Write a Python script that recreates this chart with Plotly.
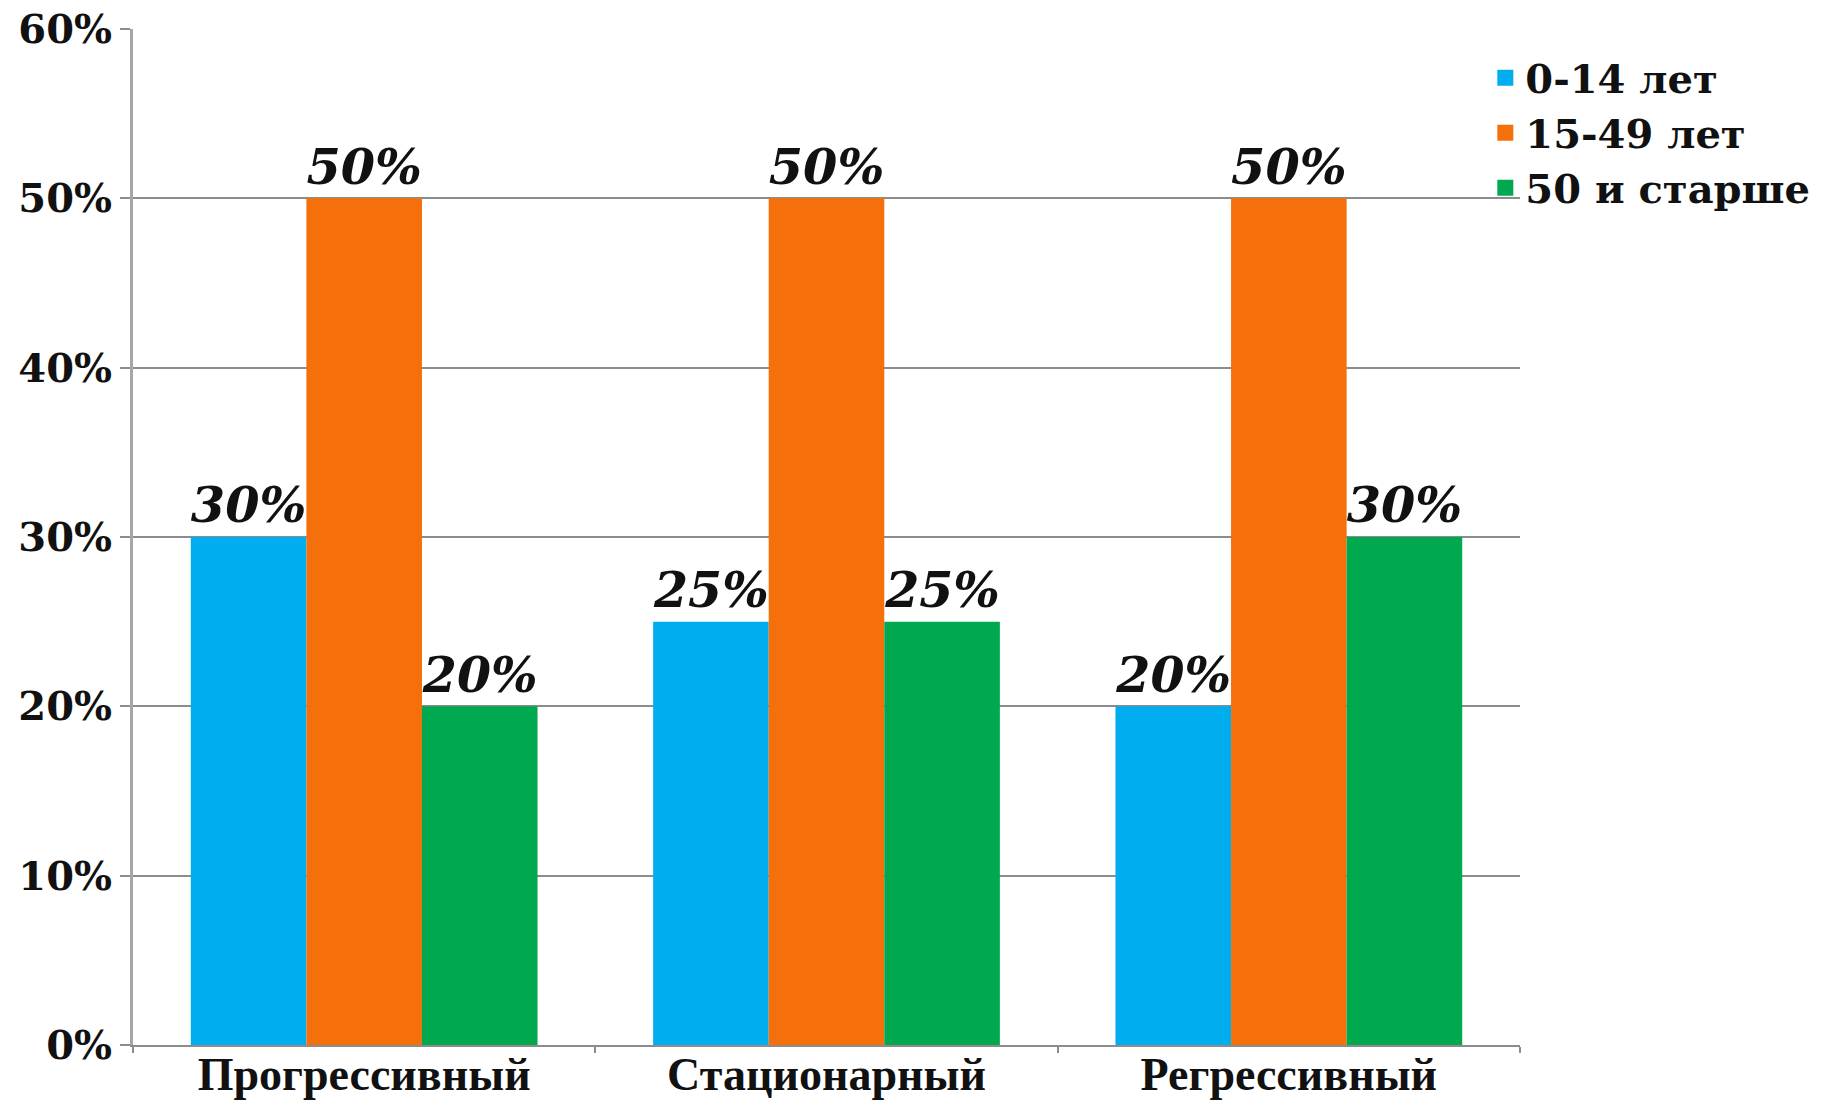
import plotly.graph_objects as go

categories = ["Прогрессивный", "Стационарный", "Регрессивный"]
series_names = ["0-14 лет", "15-49 лет", "50 и старше"]
young = [30, 25, 20]
middle = [50, 50, 50]
old = [20, 25, 30]
colors = ["#00AEEF", "#F5700A", "#00A94F"]
y_ticks = [0, 10, 20, 30, 40, 50, 60]
y_tick_labels = ["0%", "10%", "20%", "30%", "40%", "50%", "60%"]

FONT = "DejaVu Serif"

fig = go.Figure()
for name, vals, col in zip(series_names, [young, middle, old], colors):
    fig.add_trace(go.Bar(
        x=categories, y=vals, name=name,
        marker=dict(color=col, line=dict(width=0)),
        text=[f"<b><i>{v}%</i></b>" for v in vals],
        textposition="outside",
        textfont=dict(family=FONT, size=59, color="#111111"),
        cliponaxis=False,
        showlegend=False,
    ))
# legend entries with square markers
for name, col in zip(series_names, colors):
    fig.add_trace(go.Scatter(
        x=[None], y=[None], mode="markers", name=f"<b>{name}</b>",
        marker=dict(symbol="square", size=17, color=col),
        showlegend=True,
    ))

fig.update_layout(
    width=1843, height=1108,
    margin=dict(l=133, r=323, t=29, b=63, autoexpand=False),
    plot_bgcolor="white", paper_bgcolor="white",
    barmode="group", bargap=0.25, bargroupgap=0,
    font=dict(family=FONT, color="#111111"),
    showlegend=True,
    legend=dict(
        x=0.975, y=0.984, xanchor="left", yanchor="top",
        font=dict(family=FONT, size=40, color="#111111"),
        itemwidth=30, tracegroupgap=0, itemsizing="trace",
        bgcolor="rgba(0,0,0,0)",
    ),
)
fig.update_xaxes(
    showline=True, linecolor="#8c8c8c", linewidth=2,
    ticks="outside", tickson="boundaries", ticklen=6, tickcolor="#8c8c8c", tickwidth=2,
    tickfont=dict(family="Liberation Serif", size=46, color="#111111"),
    tickprefix="<b>", ticksuffix="</b>", automargin=False,
    ticklabelstandoff=-12,
)
fig.update_yaxes(
    range=[0, 60], tickvals=y_ticks, ticktext=[f"<b>{t}</b>" for t in y_tick_labels],
    showgrid=True, gridcolor="#8c8c8c", gridwidth=2,
    showline=True, linecolor="#a6a6a6", linewidth=3,
    ticks="outside", ticklen=10, tickcolor="#8c8c8c", tickwidth=2,
    tickfont=dict(family=FONT, size=40, color="#111111"),
    zeroline=False, automargin=False,
)
fig.write_html("out.html")
